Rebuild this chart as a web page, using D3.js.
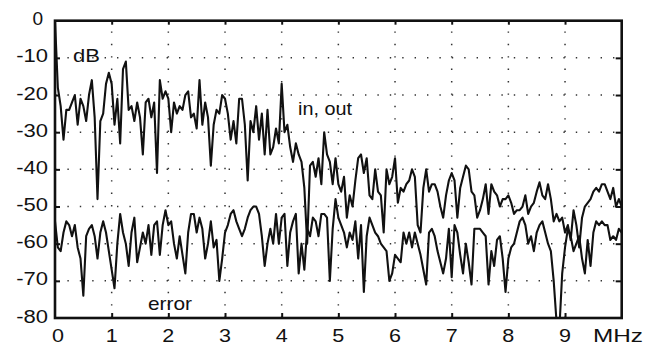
<!DOCTYPE html>
<html>
<head>
<meta charset="utf-8">
<script src="https://cdn.jsdelivr.net/npm/d3@7/dist/d3.min.js"></script>
<style>
  body { margin: 0; background: #fff; }
  svg { display: block; font-family: 'Liberation Sans', Arial, sans-serif; }
</style>
</head>
<body>
<svg id="chart" width="650" height="346"></svg>
<script>
// spectrum sampled every 0.05 MHz, 0..10 MHz, values in dB
const freqStep = 0.05;
const inOut = [
  0, -18, -23, -32, -24, -24, -22, -20, -28, -21, -23, -27, -20, -16, -26, -48, -27, -25, -17, -14,
  -17, -28, -21, -33, -13, -11, -24, -23, -27, -22, -26, -36, -22, -21, -26, -22, -41, -16, -21, -19,
  -21, -30, -22, -25, -23, -24, -20, -19, -26, -25, -29, -16, -28, -22, -26, -39, -28, -24, -25, -20,
  -21, -25, -32, -27, -33, -21, -21, -28, -43, -27, -30, -23, -32, -25, -36, -24, -36, -34, -29, -33,
  -17, -30, -28, -34, -38, -33, -36, -38, -45, -60, -39, -38, -42, -37, -44, -30, -36, -38, -44, -37,
  -44, -46, -42, -53, -47, -50, -43, -37, -36, -41, -37, -47, -48, -40, -46, -47, -57, -40, -44, -42,
  -37, -49, -45, -46, -44, -43, -40, -42, -55, -57, -45, -40, -46, -44, -44, -46, -50, -53, -47, -43,
  -41, -43, -53, -45, -42, -39, -40, -46, -47, -53, -51, -48, -44, -52, -44, -46, -47, -50, -48, -48,
  -47, -49, -52, -51, -51, -50, -47, -52, -50, -49, -46, -43.5, -47, -48, -44, -48, -54, -52, -54, -53,
  -57, -55, -59, -51, -55, -61, -53, -50, -49, -48, -46, -45, -46, -44, -44, -46, -48, -45, -50, -48,
  -50
];
const error = [
  -54, -61, -62, -57, -54, -55, -58, -55, -61, -64, -74, -58, -56, -55, -58, -64, -57, -54, -57, -62,
  -67, -72, -60, -52, -57, -60, -66, -57, -53, -65, -61, -57, -60, -55, -63, -55, -54, -63, -55, -51,
  -55, -54, -60, -64, -58, -63, -68, -57, -52, -52, -57, -53, -56, -64, -60, -54, -61, -59, -70, -64,
  -57, -55, -52, -51, -54, -56, -58, -56, -53, -51, -50, -50, -52, -58, -66, -60, -56, -60, -52, -60,
  -53, -52, -66, -57, -54, -52, -68, -60, -67, -56, -58, -53, -54, -58, -52, -52, -53, -70, -56, -48,
  -53, -55, -57, -61, -57, -59, -54, -64, -55, -73, -58, -53, -55, -57, -58, -60, -61, -62, -70, -68,
  -63, -64, -65, -57, -60, -57, -61, -57, -60, -63, -67, -71, -57, -56, -58, -62, -65, -68, -64, -56,
  -69, -55, -57, -63, -68, -60, -65, -71, -56, -56, -56, -57, -58, -71, -62, -66, -59, -58, -64, -73,
  -64, -61, -60, -57, -54, -53, -55, -60, -58, -62, -57, -55, -54, -57, -60, -62, -70, -81, -83, -68,
  -61, -56, -58, -62, -60, -58, -64, -68, -59, -66, -57, -54, -55, -54, -55, -55, -59, -58, -59, -56,
  -57
];
const xTicks = [0, 1, 2, 3, 4, 5, 6, 7, 8, 9];
const yTicks = [0, -10, -20, -30, -40, -50, -60, -70, -80];
const freqs = inOut.map((d, i) => +(i * freqStep).toFixed(2));

const svg = d3.select('#chart');
const x = d3.scaleLinear().domain([0, 10]).range([55, 621.7]);
const y = d3.scaleLinear().domain([-80, 0]).range([318, 20.7]);

svg.append('clipPath').attr('id', 'plot')
  .append('rect')
  .attr('x', x(0)).attr('y', y(0))
  .attr('width', x(10) - x(0)).attr('height', y(-80) - y(0));

// dotted grid
const grid = svg.append('g')
  .attr('stroke', '#333')
  .attr('stroke-width', 1.5)
  .attr('stroke-dasharray', '1.4,11');
grid.selectAll('.vg').data(xTicks.slice(1)).join('line')
  .attr('class', 'vg')
  .attr('x1', d => x(d)).attr('x2', d => x(d))
  .attr('y1', y(-80)).attr('y2', y(0));
grid.selectAll('.hg').data(yTicks.slice(1, -1)).join('line')
  .attr('class', 'hg')
  .attr('y1', d => y(d)).attr('y2', d => y(d))
  .attr('x1', x(0)).attr('x2', x(10));

// traces
const line = d3.line()
  .x((d, i) => x(freqs[i]))
  .y(d => y(d));

const traces = svg.append('g').attr('clip-path', 'url(#plot)');
[inOut, error].forEach(s => {
  traces.append('path')
    .datum(s)
    .attr('d', line)
    .attr('fill', 'none')
    .attr('stroke', '#111')
    .attr('stroke-width', 2.1)
    .attr('stroke-linejoin', 'round');
});

// inward ticks on all four sides
function tickStyle(g) {
  g.select('.domain').remove();
  g.selectAll('.tick line').attr('stroke', '#111').attr('stroke-width', 2);
  g.selectAll('.tick text').remove();
}
svg.append('g').attr('transform', `translate(0,${y(-80)})`)
  .call(d3.axisBottom(x).tickValues(xTicks.slice(1)).tickSize(-5)).call(tickStyle);
svg.append('g').attr('transform', `translate(0,${y(0)})`)
  .call(d3.axisTop(x).tickValues(xTicks.slice(1)).tickSize(-4)).call(tickStyle);
svg.append('g').attr('transform', `translate(${x(0)},0)`)
  .call(d3.axisLeft(y).tickValues(yTicks.slice(1, -1)).tickSize(-5)).call(tickStyle);
svg.append('g').attr('transform', `translate(${x(10)},0)`)
  .call(d3.axisRight(y).tickValues(yTicks.slice(1, -1)).tickSize(-6)).call(tickStyle);

// frame
svg.append('rect')
  .attr('x', x(0)).attr('y', y(0))
  .attr('width', x(10) - x(0)).attr('height', y(-80) - y(0))
  .attr('fill', 'none')
  .attr('stroke', '#111')
  .attr('stroke-width', 2.6);

// tick labels
svg.append('g').selectAll('text').data(xTicks).join('text')
  .attr('x', d => x(d) + (d === 0 ? 3 : 0))
  .attr('y', 342)
  .attr('text-anchor', 'middle')
  .attr('font-size', 18.5)
  .attr('textLength', 12)
  .attr('lengthAdjust', 'spacingAndGlyphs')
  .attr('fill', '#111')
  .text(d => d);

svg.append('g').selectAll('text').data(yTicks).join('text')
  .attr('x', d => d === 0 ? 43 : 48)
  .attr('y', d => y(d) + 4.5)
  .attr('text-anchor', 'end')
  .attr('font-size', 17.5)
  .attr('textLength', d => String(d).length * 10.6)
  .attr('lengthAdjust', 'spacingAndGlyphs')
  .attr('fill', '#111')
  .text(d => d);

// annotations
const notes = [
  { t: 'dB', x: 73, y: 62, w: 27 },
  { t: 'in, out', x: 298, y: 115, w: 54 },
  { t: 'error', x: 148, y: 310, w: 44 },
  { t: 'MHz', x: 593, y: 342, w: 50 }
];
svg.append('g').selectAll('text').data(notes).join('text')
  .attr('x', d => d.x)
  .attr('y', d => d.y)
  .attr('font-size', 19)
  .attr('textLength', d => d.w)
  .attr('lengthAdjust', 'spacingAndGlyphs')
  .attr('fill', '#111')
  .text(d => d.t);
</script>
</body>
</html>
